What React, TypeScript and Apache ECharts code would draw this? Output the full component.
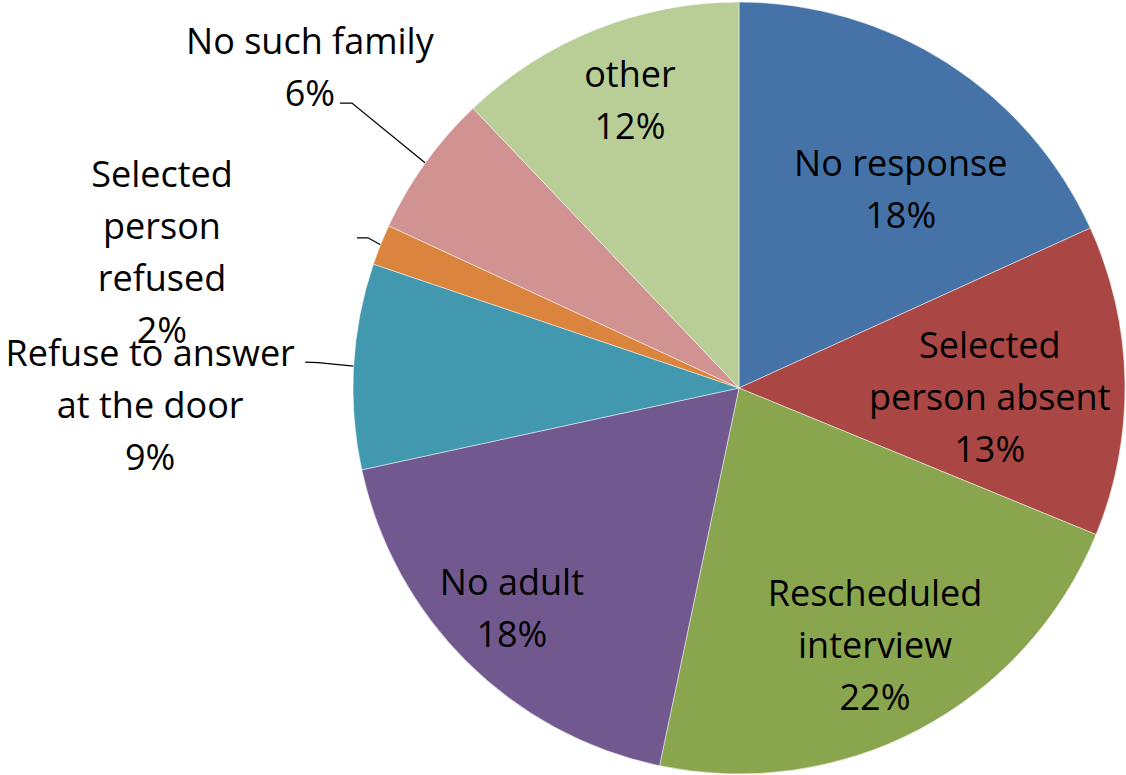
import React, { useEffect, useRef } from "react";
import * as echarts from "echarts";

// ---- data ----
const categories = [
  "No response",
  "Selected\nperson absent",
  "Rescheduled\ninterview",
  "No adult",
  "Refuse to answer\nat the door",
  "Selected\nperson\nrefused",
  "No such family",
  "other",
];
const shares = [18.2, 13.0, 22.1, 18.3, 8.6, 1.7, 6.0, 12.1];

// ---- styling / layout ----
const sliceColors = ["#4572A7", "#AA4643", "#89A54E", "#71588F", "#4198AF", "#DB843D", "#D09392", "#B9CD96"];
const outsideLabel = [false, false, false, false, true, true, true, false];
// label placement relative to the slice's mid angle (degrees) and radius fraction
const labelAngleShift = [6.3, 3.1, 0, 1.1, -4.8, -8.5, 1.2, 1.1];
const labelDistance = [0.665, 0.65, 0.753, 0.819, 1.526, 1.536, 1.389, 0.8];
// leader line elbow / end, relative to the label centre
const leaderElbow: (number[] | null)[] = [null, null, null, null, [168, -41.5], [206, -14], [42, 36.5], null];
const leaderEnd: (number[] | null)[] = [null, null, null, null, [155, -42], [195, -14], [30, 36.5], null];

const CX = 739;
const CY = 388;
const R = 386;

function polar(angleDeg: number, dist: number): number[] {
  const a = (angleDeg * Math.PI) / 180;
  return [CX + dist * Math.sin(a), CY - dist * Math.cos(a)];
}

export default function App() {
  const ref = useRef<HTMLDivElement>(null);
  useEffect(() => {
    if (!ref.current) return;
    const chart = echarts.init(ref.current, null, { renderer: "svg" });
    const total = shares.reduce((a, b) => a + b, 0);
    const mids: number[] = [];
    let acc = 0;
    shares.forEach((v) => {
      const span = (v / total) * 360;
      mids.push(acc + span / 2);
      acc += span;
    });

    chart.setOption({
      animation: false,
      backgroundColor: "#ffffff",
      series: [
        {
          type: "pie",
          center: [CX, CY],
          radius: R,
          startAngle: 90,
          clockwise: true,
          avoidLabelOverlap: false,
          percentPrecision: 0,
          emphasis: { disabled: true },
          itemStyle: { borderColor: "rgba(255,255,255,0.6)", borderWidth: 0.8 },
          label: {
            show: true,
            position: "inside",
            formatter: "{b}\n{d}%",
            color: "#000000",
            fontFamily: "Open Sans",
            fontSize: 36,
            lineHeight: 52,
          },
          labelLine: {
            show: true,
            length: 20,
            length2: 10,
            lineStyle: { color: "#000000", width: 1.3 },
          },
          labelLayout: (p: any) => {
            const i = p.dataIndex;
            const [x, y] = polar(mids[i] + labelAngleShift[i], labelDistance[i] * R);
            const res: any = { x, y, align: "center", verticalAlign: "middle" };
            if (outsideLabel[i]) {
              const edge = polar(mids[i], R);
              const el = leaderElbow[i] as number[];
              const en = leaderEnd[i] as number[];
              res.labelLinePoints = [edge, [x + el[0], y + el[1]], [x + en[0], y + en[1]]];
            }
            return res;
          },
          data: categories.map((name, i) => ({
            name,
            value: shares[i],
            itemStyle: { color: sliceColors[i] },
            label: { position: outsideLabel[i] ? "outside" : "inside" },
            labelLine: { show: outsideLabel[i] },
          })),
        },
      ],
    });
    return () => chart.dispose();
  }, []);

  return (
    <div
      ref={ref}
      style={{ position: "fixed", left: 0, top: 0, width: 1126, height: 775, background: "#fff" }}
    />
  );
}
